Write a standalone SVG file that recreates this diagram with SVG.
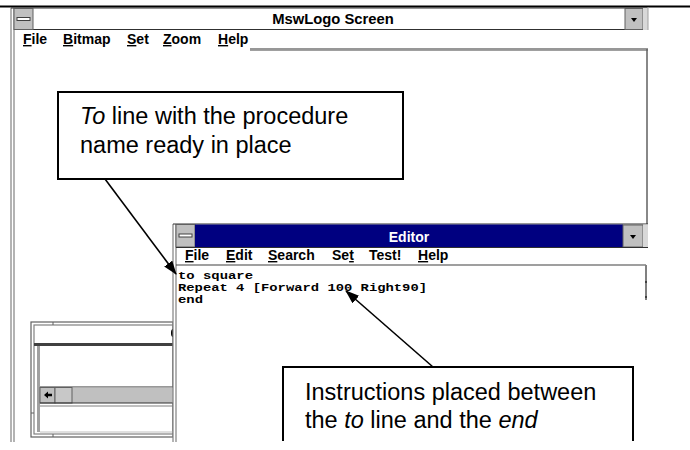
<svg xmlns="http://www.w3.org/2000/svg" width="690" height="450" viewBox="0 0 690 450">
<style>
.ui{font-family:"Liberation Sans",Arial,sans-serif;font-weight:bold;font-size:14px;fill:#000}
.u{text-decoration:underline}
.code{font-family:"Liberation Mono","Courier New",monospace;font-weight:bold;font-size:11.5px;fill:#000}
.call{font-family:"Liberation Sans",Arial,sans-serif;font-size:23.5px;fill:#000}
.fr{fill:none;stroke:#808080;stroke-width:1.2}
.dk{stroke:#303030;stroke-width:1.2;fill:none}
.btn{fill:#c0c0c0;stroke:#606060;stroke-width:1}
.box{fill:#fff;stroke:#000;stroke-width:2}
.conn{stroke:#000;stroke-width:1.6;fill:none;marker-end:url(#ah)}
</style>
<defs>
<marker id="ah" viewBox="0 0 14 10" refX="13" refY="5" markerWidth="14" markerHeight="10" markerUnits="userSpaceOnUse" orient="auto">
<path d="M0,0 L14,5 L0,10 z" fill="#000"/>
</marker>
<clipPath id="page"><rect x="0" y="0" width="690" height="442"/></clipPath>
</defs>
<rect width="690" height="450" fill="#fff"/>
<line x1="0" y1="6.5" x2="690" y2="6.5" stroke="#000" stroke-width="2"/>

<g id="main-window" clip-path="url(#page)">
<line class="fr" x1="11" y1="7" x2="11" y2="443"/>
<line class="fr" x1="14" y1="8" x2="14" y2="443"/>
<rect x="14" y="8" width="634" height="21" fill="#fff"/>
<line class="dk" x1="11" y1="8" x2="648" y2="8"/>
<line class="dk" x1="14" y1="29.5" x2="648" y2="29.5"/>
<rect class="btn" x="14" y="8.5" width="19" height="21"/>
<rect x="17" y="17.5" width="13" height="3" fill="#fff" stroke="#404040" stroke-width="1"/>
<text class="ui" x="333" y="24" text-anchor="middle" style="font-size:14.8px">MswLogo Screen</text>
<rect class="btn" x="625" y="8.5" width="18" height="21"/>
<path d="M631,18 L637,18 L634,22 z" fill="#000"/>
<rect x="643" y="8" width="5" height="22" fill="#d8d8d8"/>
<line x1="648" y1="7" x2="648" y2="30" stroke="#a0a0a0"/>
<text class="ui" x="23" y="44"><tspan class="u">F</tspan>ile</text>
<text class="ui" x="63" y="44"><tspan class="u">B</tspan>itmap</text>
<text class="ui" x="127" y="44"><tspan class="u">S</tspan>et</text>
<text class="ui" x="163" y="44"><tspan class="u">Z</tspan>oom</text>
<text class="ui" x="218" y="44"><tspan class="u">H</tspan>elp</text>
<line x1="250" y1="49" x2="648" y2="49" stroke="#303030" stroke-width="1.2"/>
<line x1="250" y1="50.5" x2="648" y2="50.5" stroke="#a0a0a0" stroke-width="1"/>
<line x1="647" y1="49" x2="647" y2="224" stroke="#606060" stroke-width="1.5"/>
</g>

<g id="status-window" clip-path="url(#page)">
<rect x="31" y="322" width="142" height="115" fill="#fff" stroke="#606060" stroke-width="1.2"/>
<rect x="34" y="325" width="139" height="109" fill="none" stroke="#808080" stroke-width="1.2"/>
<line x1="53" y1="322" x2="53" y2="325" stroke="#606060"/>
<line x1="53" y1="434" x2="53" y2="437" stroke="#606060"/>
<line x1="31" y1="413" x2="34" y2="413" stroke="#606060"/>
<rect x="34" y="343" width="139" height="3" fill="#404040"/>
<ellipse cx="173" cy="333" rx="2" ry="4" fill="#000"/>
<rect x="37" y="346" width="3" height="86" fill="#a0a0a0"/>
<line x1="40" y1="387" x2="173" y2="387" stroke="#303030" stroke-width="1"/>
<rect x="40" y="387.5" width="133" height="15.5" fill="#c0c0c0"/>
<rect class="btn" x="40" y="387.5" width="15" height="15.5"/>
<path d="M44,395 L48,391.5 L48,393.7 L52,393.7 L52,396.3 L48,396.3 L48,398.5 z" fill="#000"/>
<rect x="55" y="387.5" width="17" height="15.5" fill="#c8c8c8" stroke="#606060" stroke-width="1"/>
<line x1="40" y1="403" x2="173" y2="403" stroke="#303030" stroke-width="1.2"/>
<line x1="40" y1="406" x2="173" y2="406" stroke="#808080" stroke-width="1"/>
<line x1="40" y1="432" x2="173" y2="432" stroke="#c0c0c0" stroke-width="1"/>
</g>

<g id="editor-window" clip-path="url(#page)">
<rect x="173" y="224" width="475" height="225" fill="#fff"/>
<line class="fr" x1="173" y1="224" x2="173" y2="443" stroke-width="1.5"/>
<line class="fr" x1="176" y1="224" x2="176" y2="443"/>
<line class="dk" x1="173" y1="224" x2="648" y2="224"/>
<rect class="btn" x="176" y="224.5" width="19" height="22.5"/>
<rect x="179" y="234" width="13" height="3" fill="#fff" stroke="#404040" stroke-width="1"/>
<rect x="195" y="224.5" width="428" height="22.5" fill="#000080"/>
<text class="ui" x="409" y="242" text-anchor="middle" style="fill:#fff">Editor</text>
<rect class="btn" x="623" y="225" width="20" height="22"/>
<path d="M630,235 L636,235 L633,239 z" fill="#000"/>
<rect x="643" y="224.5" width="5" height="23" fill="#d8d8d8"/>
<line class="dk" x1="176" y1="247.5" x2="648" y2="247.5"/>
<text class="ui" x="185" y="260"><tspan class="u">F</tspan>ile</text>
<text class="ui" x="226" y="260"><tspan class="u">E</tspan>dit</text>
<text class="ui" x="268" y="260"><tspan class="u">S</tspan>earch</text>
<text class="ui" x="332" y="260">Se<tspan class="u">t</tspan></text>
<text class="ui" x="369" y="260">Test!</text>
<text class="ui" x="418" y="260"><tspan class="u">H</tspan>elp</text>
<line x1="176" y1="265" x2="646" y2="265" stroke="#404040" stroke-width="1.2"/>
<line x1="646" y1="265" x2="646" y2="300" stroke="#808080" stroke-width="2"/>
<line x1="645" y1="282" x2="647" y2="282" stroke="#000"/>
<line x1="645" y1="297" x2="647" y2="297" stroke="#000"/>
<text class="code" x="178" y="279" textLength="75" lengthAdjust="spacingAndGlyphs">to square</text>
<text class="code" x="178" y="291" textLength="249" lengthAdjust="spacingAndGlyphs">Repeat 4 [Forward 100 Right90]</text>
<text class="code" x="178" y="303" textLength="25" lengthAdjust="spacingAndGlyphs">end</text>
</g>

<g id="callout-to-line">
<rect class="box" x="58" y="92" width="345" height="87"/>
<text class="call" x="80" y="124"><tspan font-style="italic">To</tspan> line with the procedure</text>
<text class="call" x="80" y="153">name ready in place</text>
</g>

<g id="callout-instructions">
<path d="M283,441 L283,367 L633,367 L633,441" fill="#fff" stroke="#000" stroke-width="2"/>
<text class="call" x="305" y="400">Instructions placed between</text>
<text class="call" x="305" y="428">the <tspan font-style="italic">to</tspan> line and the <tspan font-style="italic">end</tspan></text>
</g>

<g id="connectors">
<line class="conn" x1="105" y1="179" x2="176" y2="274"/>
<line class="conn" x1="433" y1="367" x2="346" y2="291"/>
</g>
</svg>
